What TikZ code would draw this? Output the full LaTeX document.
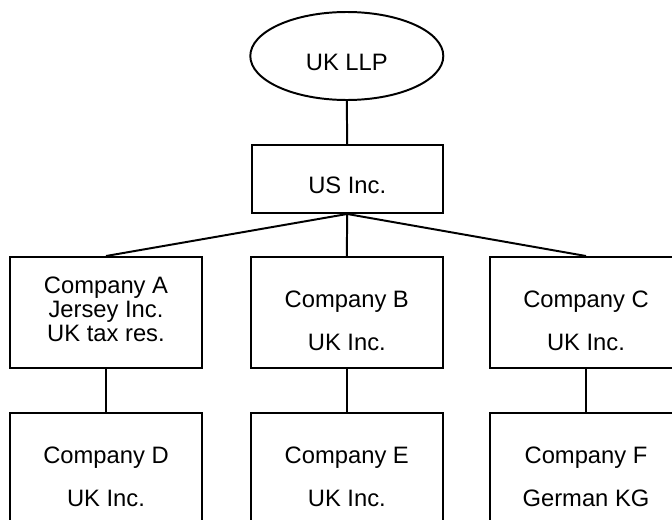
\documentclass[tikz,border=0pt]{standalone}
\usepackage{fontspec}
\setmainfont{Liberation Sans}
\usepackage{tikz}
\usetikzlibrary{shapes.geometric}

\newcommand{\orgfont}[1]{\fontsize{16.9}{#1}\selectfont}

\tikzset{
  link/.style={line width=1.4pt},
  firm/.style={draw, line width=1.4pt, rectangle, align=center,
    minimum width=4.8cm, minimum height=2.775cm},
  % text boxes are set on the baseline of their last line
  oneline/.style={font=\orgfont{20}, text height=21.3pt, text depth=0pt},
  twoline/.style={font=\orgfont{30.6}, text height=54.1pt, text depth=0pt},
  threeline/.style={font=\orgfont{17}, text height=41.3pt, text depth=0pt}
}

\begin{document}
\begin{tikzpicture}
\useasboundingbox (0,0) rectangle (16.8,12.975);

% partnership at the top and its US holding company
\node[draw, line width=1.4pt, ellipse, oneline, inner sep=0pt,
  minimum width=4.825cm, minimum height=2.2cm] (llp) at (8.67,11.575) {UK LLP};
\node[firm, oneline, minimum width=4.775cm, minimum height=1.7cm] (us) at (8.68,8.5) {US Inc.};

% first tier
\node[firm, threeline] (compA) at (2.65,5.1625) {Company A\\Jersey Inc.\\UK tax res.};
\node[firm, twoline] (compB) at (8.67,5.1625) {Company B\\UK Inc.};
\node[firm, twoline] (compC) at (14.65,5.1625) {Company C\\UK Inc.};

% second tier (runs off the bottom)
\node[firm, twoline] (compD) at (2.65,1.2625) {Company D\\UK Inc.};
\node[firm, twoline] (compE) at (8.67,1.2625) {Company E\\UK Inc.};
\node[firm, twoline] (compF) at (14.65,1.2625) {Company F\\German KG};

\draw[link] (llp.south) -- (us.north);
\foreach \sub in {compA,compB,compC}
{
	\draw[link] (us.south) -- (\sub.north);
}
\foreach \parent/\child in {compA/compD,compB/compE,compC/compF}
{
	\draw[link] (\parent.south) -- (\child.north);
}

\end{tikzpicture}
\end{document}
